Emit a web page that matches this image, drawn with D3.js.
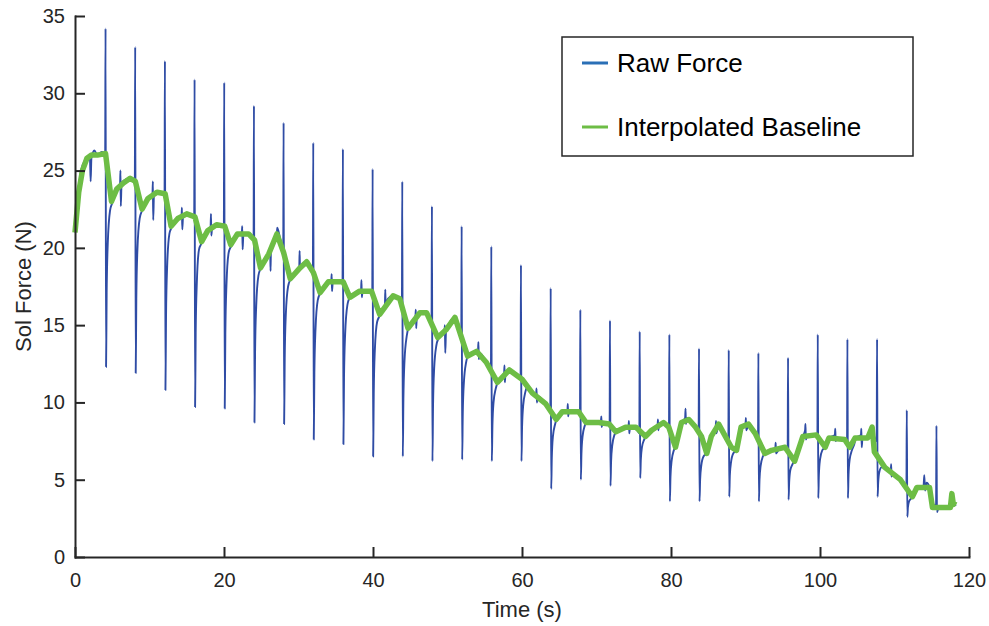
<!DOCTYPE html>
<html lang="en">
<head>
<meta charset="UTF-8">
<title>Sol Force</title>
<script src="https://d3js.org/d3.v7.min.js"></script>
<style>
  body { margin: 0; background: #fff; }
  svg { display: block; font-family: "Liberation Sans", Arial, sans-serif; }
  .axis path, .axis line { stroke: #262626; stroke-width: 2; }
  .axis text { fill: #262626; font-size: 20px; }
</style>
</head>
<body>
<svg id="chart" width="989" height="626"></svg>
<script>
// tick values
const xTicks = [0, 20, 40, 60, 80, 100, 120];
const yTicks = [0, 5, 10, 15, 20, 25, 30, 35];

// series names
const seriesNames = ["Raw Force", "Interpolated Baseline"];

// raw force trace [time s, force N] (one row per stimulation cycle)
const rawForce = [
  [0, 21.0], [0.4, 23.2], [0.8, 25.0], [1.4, 25.7], [2.0, 25.9], [2.1, 24.3], [2.2, 25.8], [2.6, 26.3], [3.0, 26.0], [3.6, 26.2], [4.05, 26.1],
  [4.1, 34.2], [4.17, 12.3], [4.25, 17.1], [4.4, 20.3], [4.7, 22.4], [5.0, 22.9], [5.6, 23.8], [6.05, 24.1], [6.1, 25.0], [6.15, 22.7], [6.25, 24.2], [7.4, 24.5], [8.03, 24.3],
  [8.08, 33.0], [8.15, 11.9], [8.23, 16.7], [8.38, 19.9], [8.68, 21.9], [9.0, 22.4], [9.8, 23.2], [10.4, 23.4], [10.45, 24.3], [10.5, 21.8], [10.6, 23.5], [11.0, 23.6], [12.02, 23.5],
  [12.07, 32.1], [12.14, 10.8], [12.22, 15.6], [12.37, 18.8], [12.67, 20.9], [12.95, 21.3], [13.8, 21.9], [14.3, 22.0], [14.35, 22.6], [14.4, 21.2], [14.5, 22.0], [15.0, 22.2], [16.0, 22.0],
  [16.05, 30.9], [16.12, 9.7], [16.2, 14.5], [16.35, 17.7], [16.65, 19.9], [17.0, 20.3], [17.8, 21.1], [18.2, 21.3], [18.25, 22.2], [18.3, 20.8], [18.4, 21.3], [19.0, 21.5], [19.98, 21.4],
  [20.03, 30.7], [20.1, 9.6], [20.18, 14.4], [20.33, 17.6], [20.63, 19.7], [20.95, 20.1], [21.8, 20.9], [22.4, 21.0], [22.45, 21.4], [22.5, 19.9], [22.6, 20.9], [23.3, 20.9], [23.97, 20.5],
  [24.02, 29.2], [24.09, 8.7], [24.17, 13.2], [24.32, 16.2], [24.62, 18.2], [24.95, 18.7], [26.0, 19.6], [26.2, 19.8], [26.25, 18.5], [26.3, 20.0], [27.1, 20.9], [27.15, 21.3], [27.95, 19.7],
  [28.0, 28.1], [28.07, 8.6], [28.15, 12.8], [28.3, 15.7], [28.6, 17.5], [28.95, 18.0], [30.1, 18.7], [30.15, 19.8], [30.2, 18.6], [30.3, 18.8], [31.1, 19.1], [31.93, 18.4],
  [31.98, 26.8], [32.05, 7.6], [32.13, 11.9], [32.28, 14.7], [32.58, 16.6], [32.95, 17.1], [34.0, 17.8], [34.4, 17.8], [34.45, 18.3], [34.5, 17.2], [34.6, 17.8], [35.91, 17.7],
  [35.96, 26.4], [36.03, 7.3], [36.11, 11.6], [36.26, 14.4], [36.56, 16.3], [36.9, 16.8], [38.2, 17.2], [38.4, 17.3], [38.45, 17.9], [38.5, 16.8], [38.6, 17.2], [39.8, 17.2], [39.9, 17.0],
  [39.95, 25.1], [40.02, 6.5], [40.1, 10.6], [40.25, 13.4], [40.55, 15.2], [40.9, 15.6], [41.6, 16.3], [41.65, 17.3], [41.7, 16.2], [42.0, 16.7], [42.7, 16.9], [43.6, 16.7], [43.88, 16.5],
  [43.93, 24.3], [44.0, 6.5], [44.08, 10.2], [44.23, 12.7], [44.53, 14.3], [44.8, 14.9], [45.7, 15.6], [45.75, 16.0], [45.8, 14.8], [45.9, 15.7], [47.2, 15.8], [47.86, 15.4],
  [47.91, 22.7], [47.98, 6.2], [48.06, 9.8], [48.21, 12.2], [48.51, 13.7], [48.75, 14.1], [49.6, 14.6], [49.65, 15.0], [49.7, 13.2], [49.8, 14.6], [51.0, 15.5], [51.5, 15.0], [51.85, 14.4],
  [51.9, 21.4], [51.97, 6.3], [52.05, 9.3], [52.2, 11.3], [52.5, 12.6], [52.75, 13.0], [53.9, 13.3], [54.1, 13.4], [54.15, 13.9], [54.2, 12.8], [54.3, 13.2], [55.2, 12.6], [55.83, 12.1],
  [55.88, 20.1], [55.95, 6.2], [56.03, 8.5], [56.18, 10.0], [56.48, 10.9], [56.75, 11.3], [57.6, 11.9], [57.65, 12.4], [57.7, 11.3], [57.8, 12.0], [58.3, 12.1], [59.2, 11.8], [59.81, 11.5],
  [59.86, 18.9], [59.93, 6.2], [60.01, 8.4], [60.16, 9.8], [60.46, 10.7], [60.7, 11.0], [61.4, 10.6], [61.9, 10.5], [61.95, 10.9], [62.0, 10.0], [62.1, 10.4], [63.2, 9.9], [63.8, 9.5],
  [63.85, 17.4], [63.92, 4.4], [64.0, 6.4], [64.15, 7.8], [64.45, 8.6], [64.7, 9.0], [65.4, 9.4], [66.1, 9.5], [66.15, 9.9], [66.2, 9.1], [66.3, 9.5], [67.6, 9.4], [67.78, 9.2],
  [67.83, 16.0], [67.9, 5.0], [67.98, 6.7], [68.13, 7.8], [68.43, 8.5], [68.65, 8.7], [70.3, 8.7], [70.6, 8.8], [70.65, 9.1], [70.7, 8.4], [70.8, 8.7], [71.7, 8.6], [71.76, 8.4],
  [71.81, 15.3], [71.88, 4.6], [71.96, 6.2], [72.11, 7.2], [72.41, 7.9], [72.65, 8.1], [73.9, 8.4], [74.3, 8.4], [74.35, 8.8], [74.4, 8.0], [74.5, 8.4], [75.3, 8.4], [75.75, 8.0],
  [75.8, 14.6], [75.87, 5.1], [75.95, 6.3], [76.1, 7.1], [76.4, 7.6], [76.65, 7.8], [77.4, 8.2], [78.2, 8.5], [78.25, 8.9], [78.3, 8.2], [78.4, 8.6], [79.0, 8.7], [79.73, 8.4],
  [79.78, 14.4], [79.85, 3.6], [79.93, 5.2], [80.08, 6.2], [80.38, 6.9], [80.6, 7.1], [81.4, 8.7], [81.9, 9.0], [81.95, 9.6], [82.0, 8.6], [82.1, 9.0], [82.4, 8.9], [83.3, 8.4], [83.71, 8.1],
  [83.76, 13.5], [83.83, 3.6], [83.91, 5.0], [84.06, 5.9], [84.36, 6.5], [84.8, 6.7], [85.4, 7.8], [86.0, 8.4], [86.05, 8.8], [86.1, 8.0], [86.4, 8.6], [87.3, 7.8], [87.7, 7.4],
  [87.75, 13.4], [87.82, 3.9], [87.9, 5.3], [88.05, 6.1], [88.35, 6.7], [88.8, 6.9], [89.4, 8.4], [90.0, 8.5], [90.05, 9.0], [90.1, 8.2], [90.4, 8.6], [91.3, 8.0], [91.68, 7.5],
  [91.73, 13.2], [91.8, 3.6], [91.88, 5.0], [92.03, 5.9], [92.33, 6.5], [92.65, 6.7], [93.5, 6.9], [94.0, 7.0], [94.05, 7.4], [94.1, 6.7], [94.4, 6.9], [95.3, 7.1], [95.66, 6.8],
  [95.71, 12.9], [95.78, 3.7], [95.86, 4.8], [96.01, 5.6], [96.31, 6.0], [96.6, 6.2], [97.7, 7.8], [98.0, 8.2], [98.05, 8.6], [98.1, 7.6], [98.3, 7.9], [99.5, 7.9], [99.65, 7.7],
  [99.7, 14.4], [99.77, 3.8], [99.85, 5.3], [100.0, 6.3], [100.3, 6.9], [100.7, 7.1], [101.2, 7.7], [102.0, 7.9], [102.05, 8.3], [102.1, 7.5], [102.3, 7.7], [103.3, 7.6], [103.63, 7.4],
  [103.68, 14.1], [103.75, 3.8], [103.83, 5.3], [103.98, 6.3], [104.28, 6.9], [104.6, 7.3], [104.8, 7.7], [105.5, 7.9], [105.55, 8.3], [105.6, 7.1], [105.7, 7.7], [106.4, 7.7], [107.0, 8.3], [107.2, 7.9], [107.61, 7.5],
  [107.66, 14.1], [107.73, 3.9], [107.81, 4.8], [107.96, 5.5], [108.26, 5.8], [108.7, 5.8], [109.5, 5.5], [109.55, 6.0], [109.6, 5.2], [109.7, 5.4], [110.8, 5.0], [111.6, 4.6],
  [111.65, 9.5], [111.72, 2.6], [111.8, 3.2], [111.95, 3.6], [112.25, 3.8], [112.5, 4.0], [113.0, 4.5], [113.9, 4.6], [114.0, 5.3], [114.1, 4.3], [114.3, 4.8], [114.7, 4.5], [115.1, 3.5], [115.58, 3.3],
  [115.63, 8.5], [115.7, 2.9], [115.78, 3.0], [115.93, 3.2], [116.5, 3.3], [117.5, 3.2], [117.7, 3.9], [117.8, 3.4], [118.0, 3.5], [118.2, 3.3]
];

// interpolated baseline [time s, force N]
const baseline = [
  [0, 21.0], [0.5, 23.6], [1.0, 25.0], [1.6, 25.8], [2.2, 26.0], [3.0, 26.0], [4.1, 26.1],
  [4.9, 23.0], [5.6, 23.8], [6.5, 24.2], [7.4, 24.5], [8.1, 24.3],
  [9.0, 22.5], [9.8, 23.2], [11.0, 23.6], [12.1, 23.5],
  [12.9, 21.4], [13.8, 21.9], [15.0, 22.2], [16.1, 22.0],
  [17.0, 20.4], [17.8, 21.1], [19.0, 21.5], [20.1, 21.4],
  [20.9, 20.2], [21.8, 20.9], [23.3, 20.9], [24.1, 20.5],
  [24.9, 18.7], [26.0, 19.6], [27.1, 20.9], [28.0, 19.7],
  [28.9, 18.0], [30.2, 18.7], [31.1, 19.1], [32.0, 18.4],
  [32.9, 17.1], [34.0, 17.8], [36.0, 17.8], [36.9, 16.8],
  [38.2, 17.2], [39.8, 17.2], [40.9, 15.7],
  [42.7, 16.9], [43.6, 16.7], [44.7, 14.8],
  [46.3, 15.8], [47.2, 15.8], [48.7, 14.2],
  [49.8, 14.7], [51.0, 15.5], [52.7, 13.0],
  [53.9, 13.3], [55.2, 12.6], [56.7, 11.3],
  [58.3, 12.1], [60.0, 11.5], [61.4, 10.6], [63.2, 9.9], [64.6, 8.9],
  [65.4, 9.4], [67.6, 9.4], [68.6, 8.7], [70.3, 8.7], [71.7, 8.6], [72.6, 8.1], [73.9, 8.4],
  [75.3, 8.4], [76.6, 7.8], [77.4, 8.2], [79.0, 8.7], [79.7, 8.4], [80.6, 7.1], [81.4, 8.7],
  [82.4, 8.9], [83.3, 8.4], [84.1, 7.8], [84.8, 6.7], [85.4, 7.8], [86.4, 8.6], [87.3, 7.8],
  [88.1, 7.1], [88.8, 6.9], [89.4, 8.4], [90.4, 8.6], [91.3, 8.0], [92.6, 6.7], [93.5, 6.9],
  [95.3, 7.1], [96.6, 6.2], [97.7, 7.8], [99.5, 7.9], [100.7, 7.1], [101.2, 7.7], [103.3, 7.6],
  [104.0, 7.1], [104.7, 7.7], [106.4, 7.7], [107.0, 8.4], [107.3, 6.8], [108.7, 5.8],
  [110.8, 5.0], [112.4, 3.9], [113.0, 4.5], [114.7, 4.5], [115.1, 3.2], [117.5, 3.2],
  [117.7, 4.1], [117.9, 3.4], [118.1, 3.6]
];

const svg = d3.select("#chart");
const margin = { left: 75, right: 20, top: 16, bottom: 69 };
const width = 989, height = 626;

const x = d3.scaleLinear().domain([0, 120]).range([margin.left, 969]);
const y = d3.scaleLinear().domain([0, 35]).range([height - margin.bottom, margin.top]);

const rawColor = "#2f4ca5";
const baseColor = "#6dbd45";

// raw force line
const line = d3.line().x(d => x(d[0])).y(d => y(d[1]));

svg.append("path")
  .datum(rawForce)
  .attr("fill", "none")
  .attr("stroke", rawColor)
  .attr("stroke-width", 1.9)
  .attr("stroke-linejoin", "round")
  .attr("d", line.curve(d3.curveMonotoneX));

svg.append("path")
  .datum(baseline)
  .attr("fill", "none")
  .attr("stroke", baseColor)
  .attr("stroke-width", 5.5)
  .attr("stroke-linejoin", "round")
  .attr("d", d3.line().x(d => x(d[0])).y(d => y(d[1])));

// axes, ticks pointing inward
svg.append("g")
  .attr("class", "axis")
  .attr("transform", `translate(0,${y(0)})`)
  .call(d3.axisBottom(x).tickValues(xTicks).tickSizeInner(-10).tickSizeOuter(0).tickPadding(16));

svg.append("g")
  .attr("class", "axis")
  .attr("transform", `translate(${x(0)},0)`)
  .call(d3.axisLeft(y).tickValues(yTicks).tickSizeInner(-10).tickSizeOuter(0).tickPadding(10));

svg.selectAll(".axis .domain").attr("stroke-linecap", "square");

// axis labels
svg.append("text")
  .attr("x", (x(0) + x(120)) / 2)
  .attr("y", 617)
  .attr("text-anchor", "middle")
  .style("font-size", "22px")
  .style("fill", "#262626")
  .text("Time (s)");

svg.append("text")
  .attr("transform", `translate(31,${(y(0) + y(35)) / 2}) rotate(-90)`)
  .attr("text-anchor", "middle")
  .style("font-size", "22px")
  .style("fill", "#262626")
  .text("Sol Force (N)");

// legend
const legend = svg.append("g");
legend.append("rect")
  .attr("x", 562).attr("y", 37)
  .attr("width", 351).attr("height", 119)
  .attr("fill", "#fff")
  .attr("stroke", "#262626")
  .attr("stroke-width", 1.5);

const legendColors = ["#2a6fb6", baseColor];
seriesNames.forEach((name, i) => {
  const ly = 63 + i * 64;
  legend.append("line")
    .attr("x1", 582).attr("x2", 608)
    .attr("y1", ly).attr("y2", ly)
    .attr("stroke", legendColors[i])
    .attr("stroke-width", 3);
  legend.append("text")
    .attr("x", 617).attr("y", ly + 9)
    .style("font-size", "26px")
    .style("fill", "#000")
    .text(name);
});
</script>
</body>
</html>
